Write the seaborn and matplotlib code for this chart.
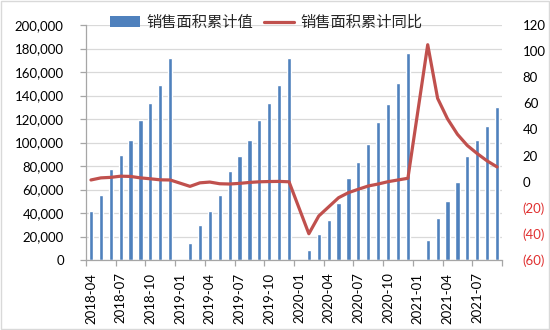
import numpy as np
import pandas as pd
import matplotlib
matplotlib.use("Agg")
import matplotlib.pyplot as plt
import seaborn as sns
from matplotlib.ticker import FuncFormatter, FixedLocator
from matplotlib.patches import Rectangle, Patch
from matplotlib.lines import Line2D

# ---------------- data ----------------
months = [
    "2018-04", "2018-05", "2018-06", "2018-07", "2018-08", "2018-09", "2018-10", "2018-11", "2018-12",
    "2019-01", "2019-02", "2019-03", "2019-04", "2019-05", "2019-06", "2019-07", "2019-08", "2019-09",
    "2019-10", "2019-11", "2019-12",
    "2020-01", "2020-02", "2020-03", "2020-04", "2020-05", "2020-06", "2020-07", "2020-08", "2020-09",
    "2020-10", "2020-11", "2020-12",
    "2021-01", "2021-02", "2021-03", "2021-04", "2021-05", "2021-06", "2021-07", "2021-08", "2021-09",
]
sales_area = [
    41700, 55700, 77100, 89700, 102500, 119200, 133300, 148600, 171700,
    np.nan, 14100, 29800, 42000, 55500, 75800, 88800, 101800, 119200, 133300, 148900, 171600,
    np.nan, 8500, 22000, 34000, 48700, 69400, 83300, 98500, 117100, 132400, 150600, 176100,
    np.nan, 17400, 36000, 50000, 66400, 88600, 101900, 114200, 130300,
]
sales_yoy = [
    1.3, 2.9, 3.3, 4.2, 4.0, 2.9, 2.2, 1.4, 1.3,
    np.nan, -3.6, -0.9, -0.3, -1.6, -1.8, -1.3, -0.6, -0.1, 0.1, 0.2, -0.1,
    np.nan, -39.9, -26.3, -19.3, -12.3, -8.4, -5.8, -3.3, -1.8, 0.0, 1.3, 2.6,
    np.nan, 104.9, 63.8, 48.1, 36.3, 27.7, 21.5, 15.9, 11.3,
]
bar_name = "销售面积累计值"
line_name = "销售面积累计同比"
left_ticks = [0, 20000, 40000, 60000, 80000, 100000, 120000, 140000, 160000, 180000, 200000]
right_ticks = [-60, -40, -20, 0, 20, 40, 60, 80, 100, 120]
right_labels = ["(60)", "(40)", "(20)", "0", "20", "40", "60", "80", "100", "120"]
xtick_labels = months[::3]

# ---------------- style ----------------
BAR_C = "#4F81BD"
LINE_C = "#C0504D"
GRID_C = "#D9D9D9"
AXIS_C = "#A6A6A6"
NEG_C = "#E03030"

sns.set_theme(style="white")
plt.rcParams["font.family"] = ["Lato", "Noto Sans CJK SC", "DejaVu Sans"]

fig = plt.figure(figsize=(5.5, 3.3), dpi=100)
ax = fig.add_axes([86 / 550, 1 - 260 / 330, (502 - 86) / 550, (260 - 25) / 330])

df = pd.DataFrame({"month": months, "area": sales_area, "yoy": sales_yoy})
df["pos"] = np.arange(len(df))

bar_df = df.dropna(subset=["area"])
sns.barplot(data=bar_df, x="month", y="area", order=months, color=BAR_C,
            saturation=1, width=0.42, ax=ax)

ax.set_ylim(0, 200000)
ax.set_yticks(left_ticks)
ax.yaxis.set_major_formatter(FuncFormatter(lambda v, p: f"{int(v):,}"))
ax.set_xlim(-0.5, len(months) - 0.5)
ax.set_xticks(np.arange(0, len(months), 3))
ax.set_xticklabels(xtick_labels, rotation=90)
ax.xaxis.set_minor_locator(FixedLocator(np.arange(-0.5, len(months), 3)))
ax.set_xlabel("")
ax.set_ylabel("")
ax.grid(axis="y", color=GRID_C, lw=0.9)
ax.set_axisbelow(True)
for s in ["top", "right"]:
    ax.spines[s].set_visible(False)
for s in ["left", "bottom"]:
    ax.spines[s].set_color(AXIS_C)
    ax.spines[s].set_linewidth(0.9)
ax.tick_params(axis="x", which="major", length=0, pad=9, labelsize=9.5, labelcolor="black")
ax.tick_params(axis="x", which="minor", length=4, color=AXIS_C, width=0.9, direction="out", bottom=True)
ax.tick_params(axis="y", length=4, color=AXIS_C, width=0.9, direction="out", left=True,
               pad=12, labelsize=9.5, labelcolor="black")

ax2 = ax.twinx()
line_df = df.dropna(subset=["yoy"])
sns.lineplot(data=line_df, x="pos", y="yoy", color=LINE_C, lw=2.3, ax=ax2)
ax2.set_ylim(-60, 120)
ax2.set_yticks(right_ticks, labels=right_labels)
for lab, v in zip(ax2.get_yticklabels(), right_ticks):
    lab.set_color(NEG_C if v < 0 else "black")
ax2.set_xlim(-0.5, len(months) - 0.5)
ax2.set_xlabel("")
ax2.set_ylabel("")
ax2.grid(False)
for s in ax2.spines.values():
    s.set_visible(False)
ax2.tick_params(axis="y", length=0, pad=15, labelsize=9.5)

handles = [Patch(facecolor=BAR_C, edgecolor="none"), Line2D([0], [0], color=LINE_C, lw=2.3)]
fig.legend(handles, [bar_name, line_name], loc="center", ncol=2,
           bbox_to_anchor=(266 / 550, 1 - 23 / 330), frameon=False,
           fontsize=11, handlelength=2.0, handletextpad=0.4, columnspacing=0.7,
           borderaxespad=0, borderpad=0)

fig.patches.append(Rectangle((0.002, 0.003), 0.996, 0.994, transform=fig.transFigure,
                             fill=False, edgecolor=GRID_C, lw=1))

fig.savefig("out.png", dpi=100)
